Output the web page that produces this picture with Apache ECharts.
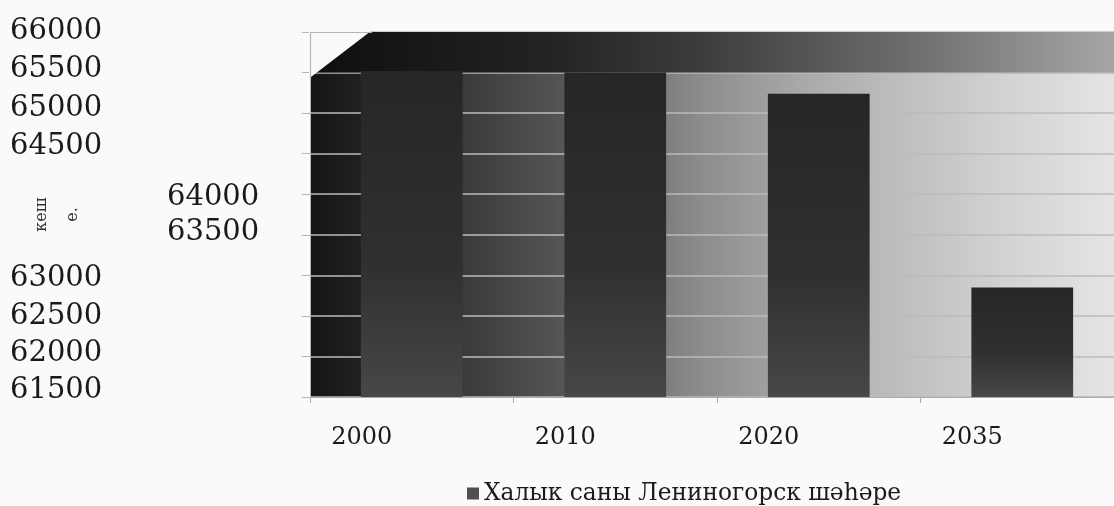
<!DOCTYPE html>
<html><head><meta charset="utf-8">
<script src="https://cdn.jsdelivr.net/npm/echarts@6/dist/echarts.min.js"></script>
<style>html,body{margin:0;padding:0;background:#fafafa}#c{width:1114px;height:506px}</style>
</head><body><div id="c"></div>
<script>
const categories = ['2000', '2010', '2020', '2035'];
const population = [65520, 65500, 65240, 62850];
const seriesName = 'Халык саны Лениногорск шәһәре';
const axisTitle = 'кеш\nе.';
const yMin = 61500, yMax = 66000, yStep = 500;
const shiftedLabels = [64000, 63500];
const bandFrom = 65500;

const serif = 'DejaVu Serif';
const gridLeft = 310, gridTop = 32;
// small vertical nudges of tick labels (px, negative = up), as laid out in the source scan
const labelNudge = {66000: -1, 65500: -3, 65000: -5, 64500: -7, 64000: 3, 63500: -2, 63000: 3, 62500: 1, 62000: -3, 61500: -7};
const chart = echarts.init(document.getElementById('c'), null, {renderer: 'canvas'});
const hg = (stops) => new echarts.graphic.LinearGradient(0, 0, 1, 0, stops.map(([o, c]) => ({offset: o, color: c})));
const vg = (stops) => new echarts.graphic.LinearGradient(0, 0, 0, 1, stops.map(([o, c]) => ({offset: o, color: c})));

const rich = {};
for (let v = yMin; v <= yMax; v += yStep) {
  const d = labelNudge[v] || 0;
  rich['k' + v] = {
    fontFamily: serif, fontSize: 29, color: '#1a1a1a',
    padding: [d > 0 ? 2 * d : 0, 0, d < 0 ? -2 * d : 0, shiftedLabels.includes(v) ? 157 : 0]
  };
}

const option = {
  backgroundColor: '#fafafa',
  animation: false,
  grid: {
    left: gridLeft, top: gridTop, right: -10, bottom: 109,
    outerBoundsMode: 'none',
    show: true, borderWidth: 0,
    backgroundColor: hg([[0, '#141414'], [0.18, '#383838'], [0.31, '#555555'], [0.48, '#8c8c8c'], [0.6, '#a8a8a8'], [0.72, '#bdbdbd'], [0.85, '#d2d2d2'], [1, '#e6e6e6']])
  },
  legend: {
    left: 462, top: 477, icon: 'rect', itemWidth: 12, itemHeight: 12, itemGap: 6,
    textStyle: {fontFamily: serif, fontSize: 23.3, color: '#1a1a1a'},
    data: [{name: seriesName, itemStyle: {color: '#505050'}}]
  },
  xAxis: {
    type: 'category', data: categories,
    axisLine: {lineStyle: {color: '#aaaaaa'}},
    axisTick: {show: true, length: 6, lineStyle: {color: '#aaaaaa'}},
    axisLabel: {fontFamily: serif, fontSize: 24, color: '#1a1a1a', margin: 29, padding: [0, 100, 0, 0]}
  },
  yAxis: {
    type: 'value', min: yMin, max: yMax, interval: yStep,
    name: axisTitle, nameLocation: 'middle', nameRotate: 90, nameGap: 222, nameMoveOverlap: false,
    nameTextStyle: {fontFamily: serif, fontSize: 16, lineHeight: 31, color: '#333333'},
    axisLine: {show: true, lineStyle: {color: '#b5b5b5'}},
    axisTick: {show: true, length: 8, lineStyle: {color: '#b5b5b5'}},
    splitLine: {lineStyle: {color: '#bbbbbb', width: 1.5}},
    axisLabel: {
      align: 'left', margin: 300, fontFamily: serif, fontSize: 29, color: '#1a1a1a',
      formatter: (v) => '{k' + v + '|' + v + '}',
      rich: rich
    }
  },
  series: [{
    type: 'bar', name: seriesName, data: population, barWidth: '50%',
    itemStyle: {color: vg([[0, '#262626'], [0.6, '#303030'], [1, '#474747']])},
    markArea: {
      silent: true,
      itemStyle: {color: hg([[0, '#0e0e0e'], [0.3, '#242424'], [0.48, '#3c3c3c'], [0.72, '#6a6a6a'], [1, '#a8a8a8']])},
      data: [[{yAxis: bandFrom}, {yAxis: yMax}]]
    }
  }]
};
chart.setOption(option);
const pBand = chart.convertToPixel({yAxisIndex: 0}, bandFrom);
chart.setOption({
  graphic: [{
    type: 'polygon', z: 100, silent: true,
    shape: {points: [[gridLeft - 1, gridTop - 1], [gridLeft + 61, gridTop - 1], [gridLeft - 1, pBand + 6]]},
    style: {fill: '#fafafa'}
  }, {
    type: 'polyline', z: 101, silent: true,
    shape: {points: [[gridLeft + 0.5, pBand + 6], [gridLeft + 0.5, gridTop + 0.5], [gridLeft + 62, gridTop + 0.5]]},
    style: {stroke: '#b5b5b5', lineWidth: 1.2, fill: null}
  }]
});
</script>
</body></html>
